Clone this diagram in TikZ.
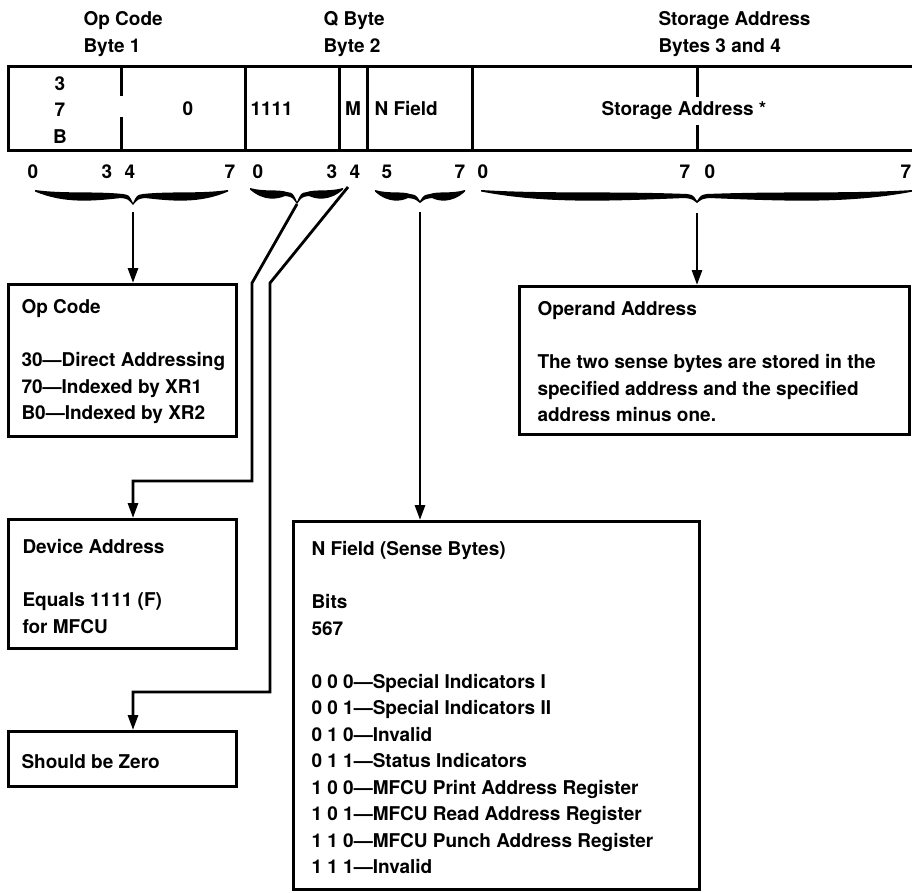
\documentclass[tikz,border=0pt]{standalone}
\usepackage{fontspec}
\setmainfont{TeX Gyre Heros}
\usetikzlibrary{arrows.meta,calc}
\newcommand\halfbrace[4]{% tip x, apex x, y0, depth
  \pgfmathsetmacro\hbD{#2-#1}%
  \pgfmathsetmacro\hbS{(\hbD>0)*2-1}%
  \fill (#1,#3) .. controls ({#1+0.3*\hbD},{#3+4}) and ({#2-0.4*\hbD},{#3+1}) .. ({#2-10*\hbS},{#3+4})
     .. controls ({#2-4*\hbS},{#3+5}) .. (#2,{#3+#4-2})
     -- (#2,{#3+#4})
     .. controls ({#2-5*\hbS},{#3+9}) .. ({#2-12*\hbS},{#3+8})
     .. controls ({#2-0.4*\hbD},{#3+11}) and ({#1+0.3*\hbD},{#3+14}) .. (#1,{#3+1.5}) -- cycle;}
\newcommand\fullbrace[5]{\halfbrace{#1}{#2}{#4}{#5}\halfbrace{#3}{#2}{#4}{#5}}
\begin{document}
\begin{tikzpicture}[x=1pt,y=-1pt,line width=3pt,
  every node/.style={inner sep=0pt,font=\bfseries\fontsize{19}{26.5}\selectfont},
  boxst/.style={draw,rectangle,anchor=north west,line width=3pt},
  txt/.style={anchor=north west,align=left},
  arr/.style={-{Triangle[length=15pt,width=10pt]},line width=2.8pt}]
\useasboundingbox (0,0) rectangle (912,892);
% top labels
\node[txt] (lblop) at (82,10) {Op Code\\Byte 1};
\node[txt] (lblq) at (322,10) {Q Byte\\Byte 2};
\node[txt] (lblsa) at (657,10) {Storage Address\\Bytes 3 and 4};
% instruction record
\draw (913,66) -| (8,150) -- (913,150);
\draw (121,66) -- (121,96) (121,117) -- (121,150);
\draw (245,66) -- (245,150);
\draw (339,66) -- (339,150);
\draw (367,66) -- (367,150);
\draw (472,66) -- (472,150);
\draw (697,66) -- (697,97) (697,125) -- (697,150);
\node[anchor=north,align=center] (f37b) at (60,75) {3\\7\\B};
\node[anchor=base] (f0) at (188,115) {0};
\node[anchor=base west] (f1111) at (249,115) {1111};
\node[anchor=base] (fm) at (353,115) {M};
\node[anchor=base west] (fn) at (373,115) {N Field};
\node[anchor=base] (fsa) at (684,115) {Storage Address *};
% bit numbers
\foreach \x/\t [count=\i] in {33/0,107/3,130/4,230/7,258/0,332/3,355/4,387/5,460/7,483/0,685/7,710/0,906/7}
  \node[anchor=base] (bit\i) at (\x,178.8) {\t};
% braces
\fullbrace{35}{133}{228}{190}{15}
\fullbrace{250}{297}{343}{188}{16}
\fullbrace{375}{420}{465}{190}{13}
\fullbrace{481}{697}{913}{190}{13}
% boxes
\node[boxst,minimum width=228pt,minimum height=152pt] (opbox) at (7,283) {};
\node[txt] (optext) at (20,298) {Op Code\\[26.5pt]30—Direct Addressing\\70—Indexed by XR1\\B0—Indexed by XR2};
\node[boxst,minimum width=390pt,minimum height=148pt] (opnd) at (518,285) {};
\node[txt] (opndtext) at (536,300) {Operand Address\\[26.5pt]The two sense bytes are stored in the\\specified address and the specified\\address minus one.};
\node[boxst,minimum width=228pt,minimum height=129pt] (devbox) at (7,518) {};
\node[txt] (devtext) at (21,538) {Device Address\\[26.5pt]Equals 1111 (F)\\for MFCU};
\node[boxst,minimum width=228pt,minimum height=55pt] (zerobox) at (7,730) {};
\node[txt] (zerotext) at (20,753) {Should be Zero};
\node[boxst,minimum width=406pt,minimum height=368pt] (nbox) at (292,520) {};
\node[txt] (ntext) at (310,540) {N Field (Sense Bytes)\\[26.5pt]Bits\\567\\[26.5pt]0 0 0—Special Indicators I\\0 0 1—Special Indicators II\\0 1 0—Invalid\\0 1 1—Status Indicators\\1 0 0—MFCU Print Address Register\\1 0 1—MFCU Read Address Register\\1 1 0—MFCU Punch Address Register\\1 1 1—Invalid};
% connectors
\coordinate (br1) at (133,212);
\coordinate (br2) at (297,204);
\coordinate (bit4) at (348,187);
\coordinate (br3) at (420,212);
\coordinate (br4) at (697,213);
\coordinate (d1) at (252,283);
\coordinate (d2) at (252,481);
\coordinate (z1) at (270,283);
\coordinate (z2) at (270,692);
\draw[arr] (br1) -- (br1 |- opbox.north);
\draw[arr] (br2) -- (d1) -- (d2) -| (br1 |- devbox.north);
\draw[arr] (bit4) -- (z1) -- (z2) -| (br1 |- zerobox.north);
\draw[arr] (br3) -- (br3 |- nbox.north);
\draw[arr] (br4) -- (br4 |- opnd.north);
\end{tikzpicture}
\end{document}
